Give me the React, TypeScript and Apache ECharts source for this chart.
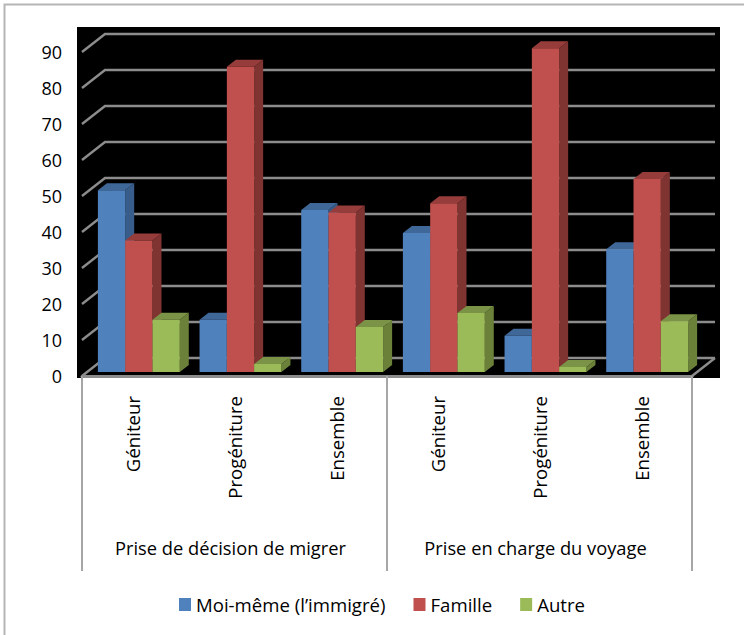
import React, { useEffect, useRef } from "react";
import * as echarts from "echarts";

const categories = ["Géniteur", "Progéniture", "Ensemble", "Géniteur", "Progéniture", "Ensemble"];
const groups = ["Prise de décision de migrer", "Prise en charge du voyage"];
const valueTicks = [0, 10, 20, 30, 40, 50, 60, 70, 80, 90];

const moiMeme = [50.5, 14.5, 45, 38.6, 10.1, 34.1];
const famille = [36.5, 84.8, 44.3, 46.9, 89.9, 53.6];
const autre = [14.5, 2.2, 12.5, 16.4, 1.4, 14.1];

const FONT = "'Open Sans', sans-serif";
const BAR_W = 27.3;
const GRID = { left: 82, top: 52, width: 610, height: 324 };

// Pseudo-3D: the bars sit a little behind the front plane and have a short depth.
const BAR_SHIFT = { x: 6, y: -4 };
const BAR_DEPTH = { x: 9, y: -7 };
const WALL_DEPTH = { x: 23, y: -18 };

function bar3d(offset: number, front: string, side: string, top: string) {
  return (params: any, api: any) => {
    const p0 = api.coord([api.value(0), 0]);
    const p1 = api.coord([api.value(0), api.value(1)]);
    const xl = p0[0] + BAR_SHIFT.x + (offset - 0.5) * BAR_W;
    const xr = xl + BAR_W;
    const yb = p0[1] + BAR_SHIFT.y;
    const yt = p1[1] + BAR_SHIFT.y;
    const dx = BAR_DEPTH.x;
    const dy = BAR_DEPTH.y;
    return {
      type: "group",
      children: [
        { type: "polygon", shape: { points: [[xr, yt], [xr + dx, yt + dy], [xr + dx, yb + dy], [xr, yb]] }, style: { fill: side } },
        { type: "polygon", shape: { points: [[xl, yt], [xl + dx, yt + dy], [xr + dx, yt + dy], [xr, yt]] }, style: { fill: top } },
        { type: "rect", shape: { x: xl, y: yt, width: BAR_W, height: yb - yt }, style: { fill: front } },
      ],
    };
  };
}

function wallLines(params: any, api: any) {
  const v = api.value(0);
  const y = api.coord([0, v])[1];
  const xl = params.coordSys.x;
  const xr = xl + params.coordSys.width;
  const stroke = "#8c8c8c";
  const children: any[] = [
    {
      type: "polyline",
      shape: { points: [[xl, y], [xl + WALL_DEPTH.x, y + WALL_DEPTH.y], [xr + WALL_DEPTH.x, y + WALL_DEPTH.y]] },
      style: { stroke, lineWidth: 2.4, fill: "none" },
    },
  ];
  if (v === 0) {
    children.push({
      type: "line",
      shape: { x1: xr, y1: y, x2: xr + WALL_DEPTH.x, y2: y + WALL_DEPTH.y },
      style: { stroke, lineWidth: 2.4 },
    });
  }
  return { type: "group", children };
}

function barSeries(name: string, data: number[], offset: number, front: string, side: string, top: string) {
  return {
    name,
    type: "custom",
    xAxisIndex: 0,
    yAxisIndex: 0,
    z: 3 + offset,
    itemStyle: { color: front },
    encode: { x: 0, y: 1 },
    data: data.map((v, i) => [i, v]),
    renderItem: bar3d(offset, front, side, top),
  };
}

export default function App() {
  const ref = useRef<HTMLDivElement>(null);
  useEffect(() => {
    const chart = echarts.init(ref.current!, undefined, { renderer: "svg" });
    chart.setOption({
      animation: false,
      backgroundColor: "#ffffff",
      textStyle: { fontFamily: FONT },
      graphic: [
        {
          type: "polyline",
          z: -10,
          shape: { points: [[4.5, 640], [4.5, 4.5], [750, 4.5]] },
          style: { fill: "none", stroke: "#b5b5b5", lineWidth: 2 },
        },
        {
          type: "rect",
          z: -9,
          shape: { x: 77, y: 27, width: 643, height: 351 },
          style: { fill: "#000" },
        },
      ],
      grid: { ...GRID, containLabel: false },
      legend: {
        left: 174,
        top: 590,
        itemWidth: 12,
        itemHeight: 13,
        itemGap: 28,
        icon: "rect",
        data: ["Moi-même (l’immigré)", "Famille", "Autre"],
        textStyle: { fontFamily: FONT, fontSize: 18.6, color: "#000" },
      },
      xAxis: [
        {
          type: "category",
          data: categories,
          position: "bottom",
          axisLine: { show: true, lineStyle: { color: "#8c8c8c", width: 3 } },
          axisTick: { show: false },
          axisLabel: { rotate: 90, interval: 0, margin: 20, fontSize: 18.6, color: "#000", fontFamily: FONT, padding: [3, 0, 0, 0] },
        },
        {
          type: "category",
          data: groups,
          position: "bottom",
          axisLine: { show: false },
          axisTick: { show: true, length: 195, lineStyle: { color: "#a6a6a6", width: 2 } },
          axisLabel: { interval: 0, margin: 162, fontSize: 18.3, color: "#000", fontFamily: FONT, padding: [0, 8, 0, 0] },
        },
      ],
      yAxis: {
        type: "value",
        min: 0,
        max: 90,
        interval: 10,
        axisLine: { show: false },
        axisTick: { show: false },
        splitLine: { show: false },
        axisLabel: { margin: 20, fontSize: 18, color: "#000", fontFamily: FONT },
      },
      series: [
        {
          type: "custom",
          name: "grille",
          z: 1,
          encode: { y: 0 },
          data: valueTicks.map((v) => [v]),
          renderItem: wallLines,
          silent: true,
        },
        barSeries("Moi-même (l’immigré)", moiMeme, -1, "#4F81BD", "#385D8A", "#3F6797"),
        barSeries("Famille", famille, 0, "#C0504D", "#7F3432", "#963C3A"),
        barSeries("Autre", autre, 1, "#9BBB59", "#6B8139", "#7A9346"),
      ],
    });
    return () => chart.dispose();
  }, []);
  return <div ref={ref} style={{ position: "absolute", left: 0, top: 0, width: 744, height: 635 }} />;
}
